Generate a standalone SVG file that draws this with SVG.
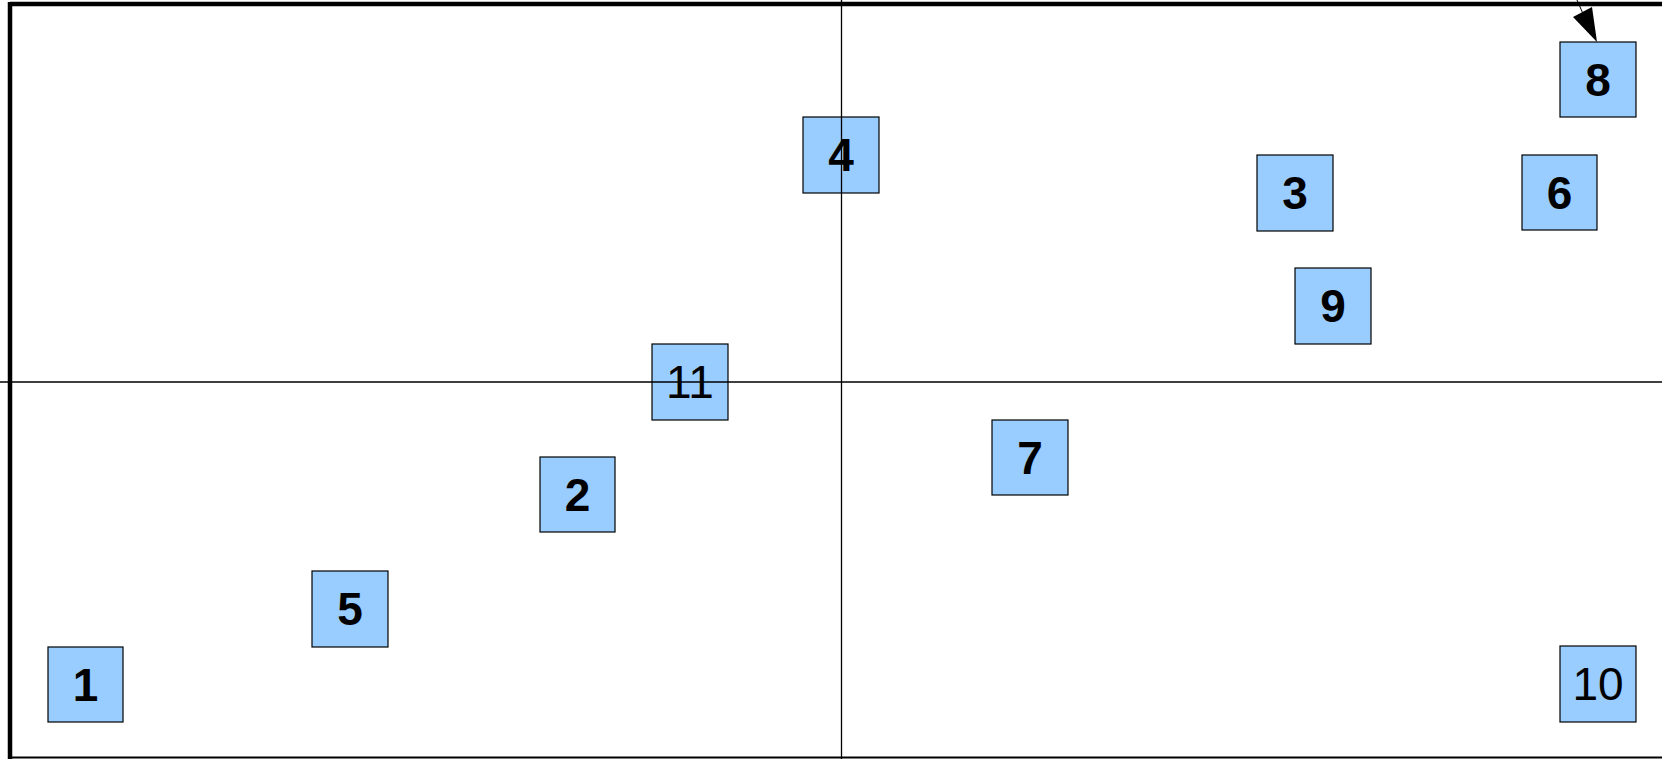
<svg xmlns="http://www.w3.org/2000/svg" width="1662" height="759" viewBox="0 0 1662 759">
<style>
.box{fill:#99ccff;stroke:#000;stroke-width:1.2}
.lb{font-family:"Liberation Sans",Arial,sans-serif;font-size:46px;text-anchor:middle;dominant-baseline:central;fill:#000}
.b{font-weight:bold}
.ax{stroke:#000;stroke-width:1.3;fill:none}
</style>
<rect width="1662" height="759" fill="#fff"/>
<g id="frame">
<line x1="10" y1="4" x2="1662" y2="4" stroke="#000" stroke-width="4.5"/>
<line x1="10" y1="2" x2="10" y2="759" stroke="#000" stroke-width="4.5"/>
<line x1="10" y1="757.5" x2="1662" y2="757.5" stroke="#000" stroke-width="2"/>
<line class="ax" x1="0" y1="382" x2="1662" y2="382"/>
<line class="ax" x1="841.5" y1="0" x2="841.5" y2="759"/>
</g>
<g id="connectors">
<line x1="1577" y1="0" x2="1584" y2="16" stroke="#000" stroke-width="1"/>
<polygon points="1573,17 1592,7 1597,42" fill="#000"/>
</g>
<g id="n1"><rect class="box" x="48" y="647" width="75" height="75"/><text class="lb b" x="85.5" y="685">1</text></g>
<g id="n2"><rect class="box" x="540" y="457" width="75" height="75"/><text class="lb b" x="577.5" y="495">2</text></g>
<g id="n3"><rect class="box" x="1257" y="155" width="76" height="76"/><text class="lb b" x="1295" y="193">3</text></g>
<g id="n4"><rect class="box" x="803" y="117" width="76" height="76"/><text class="lb b" x="841" y="155">4</text></g>
<g id="n5"><rect class="box" x="312" y="571" width="76" height="76"/><text class="lb b" x="350" y="609">5</text></g>
<g id="n6"><rect class="box" x="1522" y="155" width="75" height="75"/><text class="lb b" x="1559.5" y="193">6</text></g>
<g id="n7"><rect class="box" x="992" y="420" width="76" height="75"/><text class="lb b" x="1030" y="458">7</text></g>
<g id="n8"><rect class="box" x="1560" y="42" width="76" height="75"/><text class="lb b" x="1598" y="80">8</text></g>
<g id="n9"><rect class="box" x="1295" y="268" width="76" height="76"/><text class="lb b" x="1333" y="306">9</text></g>
<g id="n10"><rect class="box" x="1560" y="646" width="76" height="76"/><text class="lb" x="1598" y="684">10</text></g>
<g id="n11"><rect class="box" x="652" y="344" width="76" height="76"/><text class="lb" x="690" y="382">11</text></g>
<line class="ax" x1="652" y1="382" x2="728" y2="382"/>
<line class="ax" x1="841.5" y1="117" x2="841.5" y2="193"/>
</svg>
